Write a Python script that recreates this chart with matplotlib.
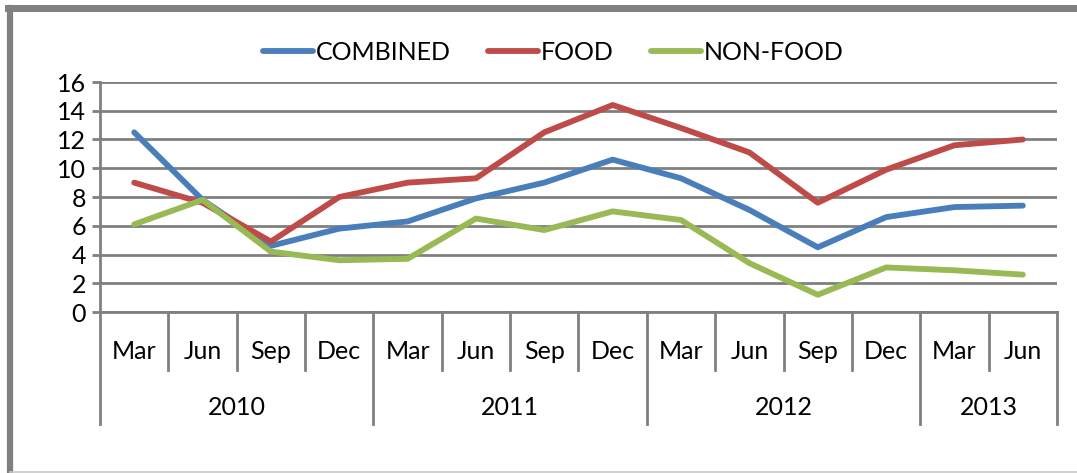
import matplotlib
matplotlib.use("Agg")
import matplotlib.pyplot as plt
from matplotlib import font_manager
from matplotlib.transforms import blended_transform_factory
from matplotlib.lines import Line2D

# quarterly inflation (%)
quarters = ["Mar", "Jun", "Sep", "Dec", "Mar", "Jun", "Sep", "Dec",
            "Mar", "Jun", "Sep", "Dec", "Mar", "Jun"]
years = ["2010", "2011", "2012", "2013"]
quarters_per_year = [4, 4, 4, 2]

combined = [12.5, 7.8, 4.6, 5.8, 6.3, 7.9, 9.0, 10.6, 9.3, 7.1, 4.5, 6.6, 7.3, 7.4]
food = [9.0, 7.6, 4.9, 8.0, 9.0, 9.3, 12.5, 14.4, 12.8, 11.1, 7.6, 9.9, 11.6, 12.0]
non_food = [6.1, 7.8, 4.2, 3.6, 3.7, 6.5, 5.7, 7.0, 6.4, 3.4, 1.2, 3.1, 2.9, 2.6]

names = [f.name for f in font_manager.fontManager.ttflist]
font = "Liberation Sans Narrow" if "Liberation Sans Narrow" in names else "Lato"
plt.rcParams["font.family"] = [font, "DejaVu Sans"]
fs = 18

grid_col = "#808080"

fig = plt.figure(figsize=(10.77, 4.73), dpi=100)
ax = fig.add_axes([100 / 1077, 1 - 312 / 473, 957 / 1077, 230 / 473])

x = list(range(len(quarters)))
ax.plot(x, combined, color="#4A7EBB", lw=4.2, label="COMBINED", solid_capstyle="round")
ax.plot(x, food, color="#BE4B48", lw=4.2, label="FOOD", solid_capstyle="round")
ax.plot(x, non_food, color="#98B954", lw=4.2, label="NON-FOOD", solid_capstyle="round")

ax.set_xlim(-0.5, len(quarters) - 0.5)
ax.set_ylim(0, 16)
ax.set_yticks(range(0, 17, 2))
ax.yaxis.grid(True, color=grid_col, lw=2.0)
ax.set_axisbelow(True)
for s in ["top", "right"]:
    ax.spines[s].set_visible(False)
ax.spines["left"].set_color(grid_col)
ax.spines["left"].set_linewidth(2.0)
ax.spines["bottom"].set_color(grid_col)
ax.spines["bottom"].set_linewidth(2.0)
ax.tick_params(axis="y", length=6, width=2.0, color=grid_col, labelsize=fs, pad=4)

ax.set_xticks(x)
ax.set_xticklabels(quarters, fontsize=fs)
ax.tick_params(axis="x", length=0, pad=20)

# category separators below the axis
trans = blended_transform_factory(ax.transData, ax.transAxes)
inner_bottom = -58 / 230
outer_bottom = -112 / 230
edges = [i - 0.5 for i in range(len(quarters) + 1)]
year_edges = [-0.5]
for n in quarters_per_year:
    year_edges.append(year_edges[-1] + n)
for e in edges:
    low = outer_bottom if e in year_edges else inner_bottom
    ax.add_line(Line2D([e, e], [0, low], transform=trans, color=grid_col,
                       lw=2.0, clip_on=False))
for i, yr in enumerate(years):
    mid = (year_edges[i] + year_edges[i + 1]) / 2
    ax.text(mid, -95 / 230, yr, transform=trans, ha="center", va="center",
            fontsize=fs)

fig.legend(loc="center", bbox_to_anchor=(0.514, 1 - 52 / 473), ncol=3,
           frameon=False, fontsize=fs, handlelength=2.0, handletextpad=0.1,
           columnspacing=1.5)

# outer frame
fig.add_artist(Line2D([8 / 1077, 1], [1 - 8 / 473, 1 - 8 / 473],
                      transform=fig.transFigure, color="#808080", lw=5))
fig.add_artist(Line2D([10 / 1077, 10 / 1077], [1 - 8 / 473, 1 / 473],
                      transform=fig.transFigure, color="#808080", lw=4.5))
fig.add_artist(Line2D([10 / 1077, 1], [1.5 / 473, 1.5 / 473],
                      transform=fig.transFigure, color="#c8c8c8", lw=1.2))

fig.savefig("out.png", dpi=100)
